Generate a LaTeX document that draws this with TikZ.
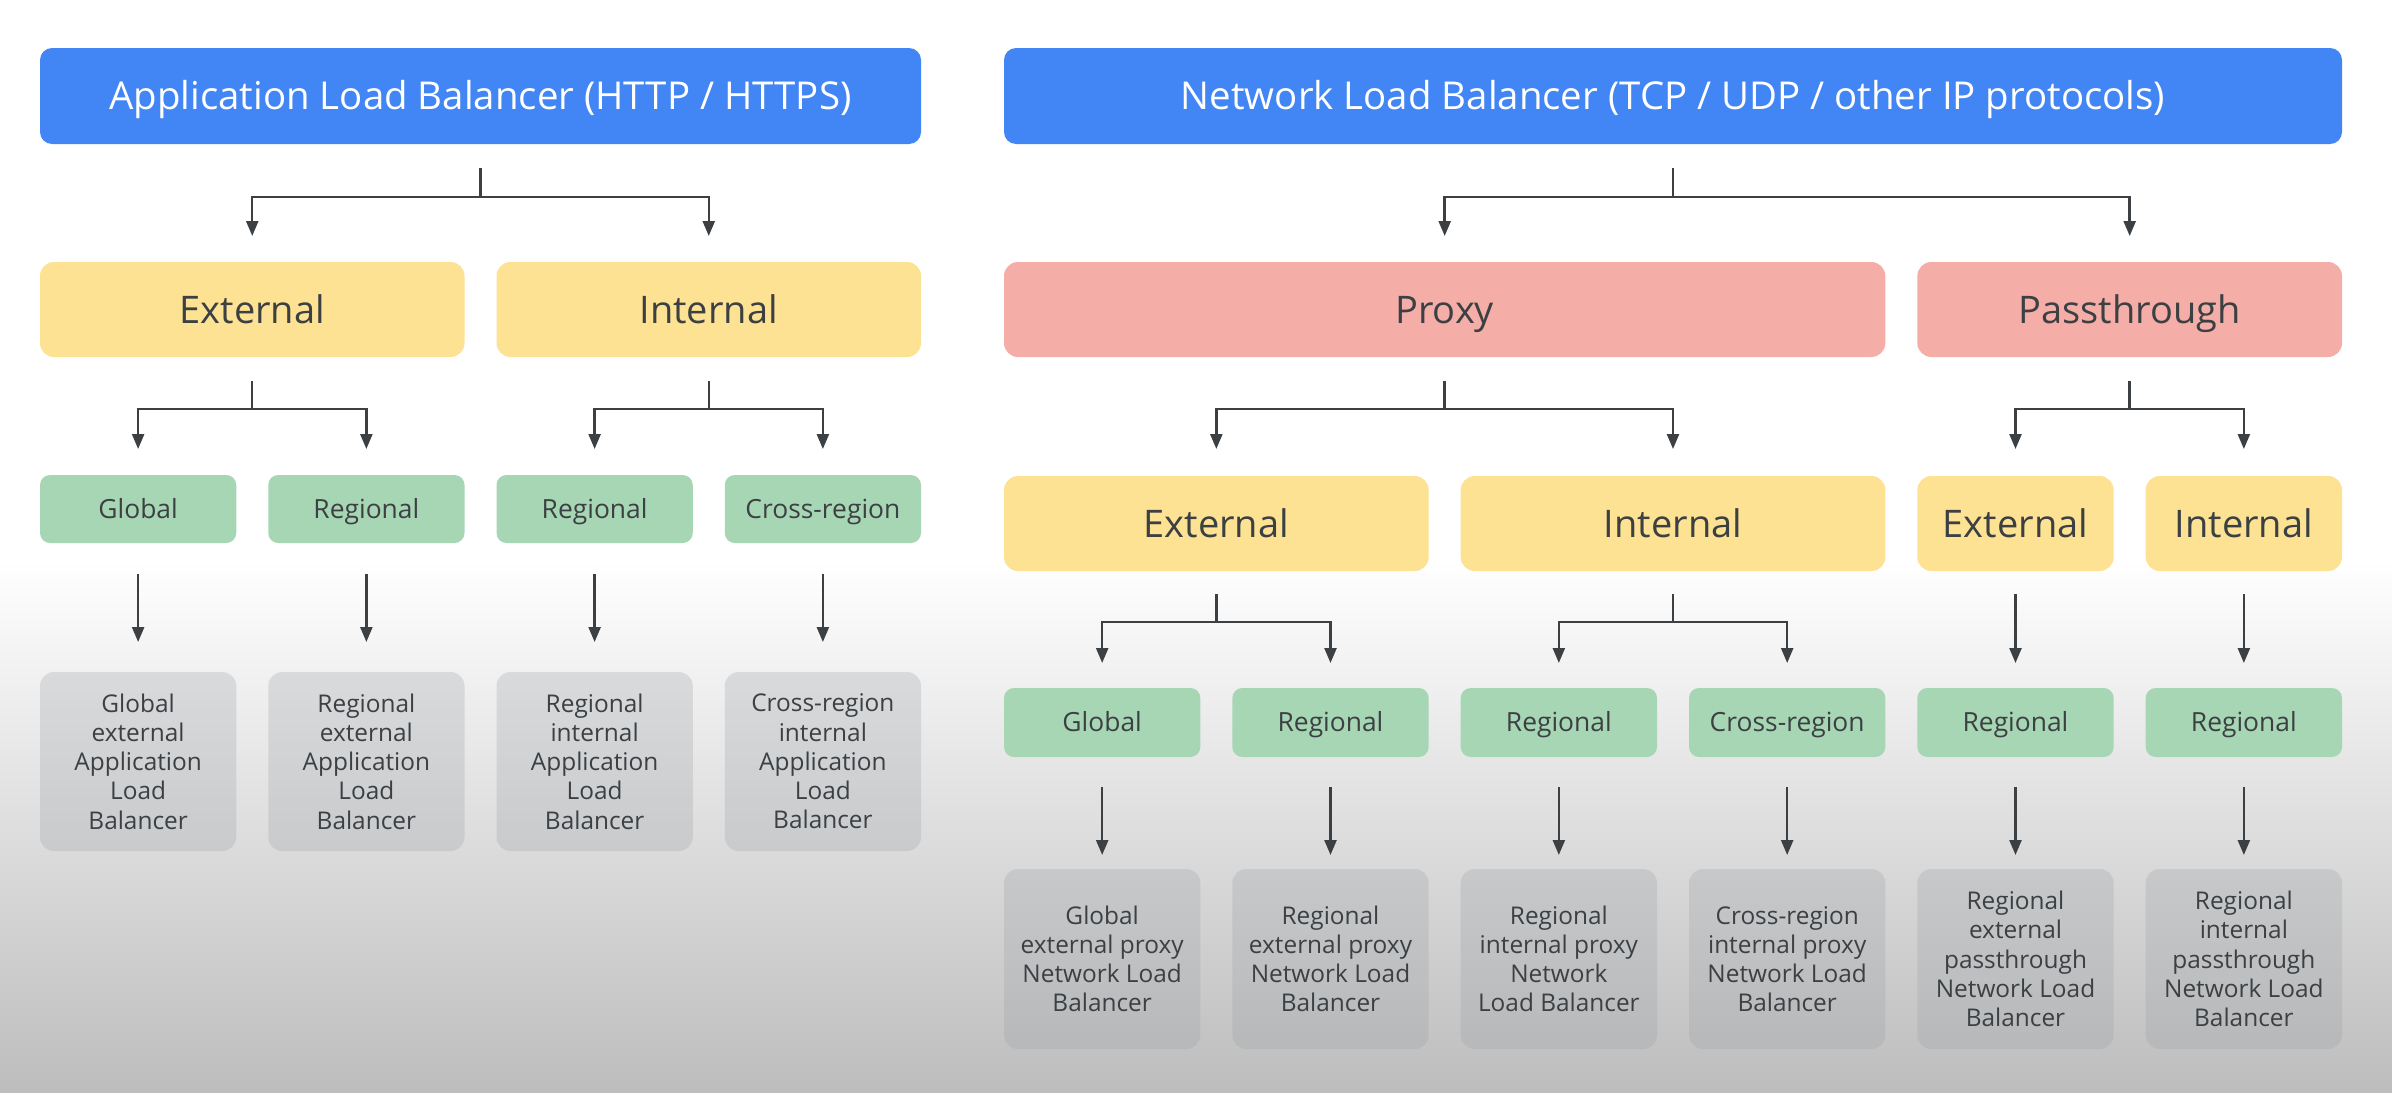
\documentclass[tikz,border=0pt]{standalone}
\usepackage{fontspec}
\setmainfont{Open Sans}
\usetikzlibrary{arrows.meta,calc}
\definecolor{gblue}{HTML}{4285F4}
\definecolor{gyellow}{HTML}{FDE293}
\definecolor{gred}{HTML}{F5ADA8}
\definecolor{ggreen}{HTML}{A6D6B4}
\definecolor{ggray}{HTML}{9AA0A6}
\definecolor{gtext}{HTML}{3C4043}
\definecolor{gline}{HTML}{3C4043}
\definecolor{bgbottom}{HTML}{BDBDBD}
\newcommand\mkbox[7]{\node[#6, minimum width={(#4-#2)*0.5pt}, minimum height={(#5-#3)*0.5pt}] (#1) at ({(#2+#4)/2},{(#3+#5)/2}) {#7};}
\tikzset{
  base/.style={rounded corners=6pt, inner sep=0pt, outer sep=0pt, align=center, text=gtext},
  titlebox/.style={base, fill=gblue, text=white, font=\fontsize{19.2}{22}\selectfont, text height=13.7pt, text depth=0pt},
  catbox/.style={base, fill=gyellow, rounded corners=7pt, font=\fontsize{19}{22}\selectfont, text height=13.6pt, text depth=0pt},
  redbox/.style={catbox, fill=gred},
  scopebox/.style={base, fill=ggreen, rounded corners=5pt, font=\fontsize{13.2}{15}\selectfont, text height=9.4pt, text depth=0pt},
  resbox/.style={base, fill=ggray, fill opacity=0.28, text opacity=1, rounded corners=7pt, font=\fontsize{12.2}{14.6}\selectfont},
  line/.style={draw=gline, line width=1.2pt},
  arr/.style={line, -{Triangle[length=7.5pt,width=6pt]}}
}
\begin{document}
\begin{tikzpicture}[x=0.5pt, y=-0.5pt]
\useasboundingbox (0,0) rectangle (2392,1092);
\fill[white] (0,0) rectangle (2392,1092);
\shade[top color=white, bottom color=bgbottom] (0,560) rectangle (2392,1092);

% ---------- Application Load Balancer ----------
\mkbox{alb}{40}{48}{921}{144}{titlebox}{Application Load Balancer (HTTP / HTTPS)}
\mkbox{aext}{40}{262}{464.5}{357}{catbox}{External}
\mkbox{aint}{496.5}{262}{921}{357}{catbox}{Internal}
\mkbox{ag1}{40}{475}{236.25}{543}{scopebox}{Global}
\mkbox{ag2}{268.25}{475}{464.5}{543}{scopebox}{Regional}
\mkbox{ag3}{496.5}{475}{692.75}{543}{scopebox}{Regional}
\mkbox{ag4}{724.75}{475}{921}{543}{scopebox}{Cross-region}
\mkbox{ar1}{40}{672}{236.25}{851}{resbox}{Global\\external\\Application\\Load\\Balancer}
\mkbox{ar2}{268.25}{672}{464.5}{851}{resbox}{Regional\\external\\Application\\Load\\Balancer}
\mkbox{ar3}{496.5}{672}{692.75}{851}{resbox}{Regional\\internal\\Application\\Load\\Balancer}
\mkbox{ar4}{724.75}{672}{921}{851}{resbox}{Cross-region\\internal\\Application\\Load\\Balancer}

\coordinate (jA) at ($(alb.south)+(0,53)$);
\draw[line, shorten <=12pt] (alb.south) -- (jA);
\draw[arr, shorten >=13pt] (jA) -| (aext.north);
\draw[arr, shorten >=13pt] (jA) -| (aint.north);

\coordinate (jAE) at ($(aext.south)+(0,52)$);
\draw[line, shorten <=12pt] (aext.south) -- (jAE);
\draw[arr, shorten >=13pt] (jAE) -| (ag1.north);
\draw[arr, shorten >=13pt] (jAE) -| (ag2.north);
\coordinate (jAI) at ($(aint.south)+(0,52)$);
\draw[line, shorten <=12pt] (aint.south) -- (jAI);
\draw[arr, shorten >=13pt] (jAI) -| (ag3.north);
\draw[arr, shorten >=13pt] (jAI) -| (ag4.north);

\foreach \i in {1,2,3,4}{
  \draw[arr, shorten <=15.5pt, shorten >=15pt] (ag\i.south) -- (ar\i.north);
}

% ---------- Network Load Balancer ----------
\mkbox{nlb}{1004}{48}{2342}{144}{titlebox}{Network Load Balancer (TCP / UDP / other IP protocols)}
\mkbox{proxy}{1004}{262}{1885.33}{357}{redbox}{Proxy}
\mkbox{pass}{1917.33}{262}{2342}{357}{redbox}{Passthrough}
\mkbox{pext}{1004}{476}{1428.67}{571}{catbox}{External}
\mkbox{pint}{1460.67}{476}{1885.33}{571}{catbox}{Internal}
\mkbox{sext}{1917.33}{476}{2113.67}{571}{catbox}{External}
\mkbox{sint}{2145.67}{476}{2342}{571}{catbox}{Internal}
\mkbox{ng1}{1004}{688}{1200.33}{757}{scopebox}{Global}
\mkbox{ng2}{1232.33}{688}{1428.67}{757}{scopebox}{Regional}
\mkbox{ng3}{1460.67}{688}{1657}{757}{scopebox}{Regional}
\mkbox{ng4}{1689}{688}{1885.33}{757}{scopebox}{Cross-region}
\mkbox{ng5}{1917.33}{688}{2113.67}{757}{scopebox}{Regional}
\mkbox{ng6}{2145.67}{688}{2342}{757}{scopebox}{Regional}
\mkbox{nr1}{1004}{869}{1200.33}{1049}{resbox}{Global\\external proxy\\Network Load\\Balancer}
\mkbox{nr2}{1232.33}{869}{1428.67}{1049}{resbox}{Regional\\external proxy\\Network Load\\Balancer}
\mkbox{nr3}{1460.67}{869}{1657}{1049}{resbox}{Regional\\internal proxy\\Network\\Load Balancer}
\mkbox{nr4}{1689}{869}{1885.33}{1049}{resbox}{Cross-region\\internal proxy\\Network Load\\Balancer}
\mkbox{nr5}{1917.33}{869}{2113.67}{1049}{resbox}{Regional\\external\\passthrough\\Network Load\\Balancer}
\mkbox{nr6}{2145.67}{869}{2342}{1049}{resbox}{Regional\\internal\\passthrough\\Network Load\\Balancer}

\coordinate (jN) at ($(nlb.south)+(0,53)$);
\draw[line, shorten <=12pt] (nlb.south) -- (jN);
\draw[arr, shorten >=13pt] (jN) -| (proxy.north);
\draw[arr, shorten >=13pt] (jN) -| (pass.north);

\coordinate (jP) at ($(proxy.south)+(0,52)$);
\draw[line, shorten <=12pt] (proxy.south) -- (jP);
\draw[arr, shorten >=13.5pt] (jP) -| (pext.north);
\draw[arr, shorten >=13.5pt] (jP) -| (pint.north);
\coordinate (jS) at ($(pass.south)+(0,52)$);
\draw[line, shorten <=12pt] (pass.south) -- (jS);
\draw[arr, shorten >=13.5pt] (jS) -| (sext.north);
\draw[arr, shorten >=13.5pt] (jS) -| (sint.north);

\coordinate (jPE) at ($(pext.south)+(0,51)$);
\draw[line, shorten <=11.5pt] (pext.south) -- (jPE);
\draw[arr, shorten >=12.5pt] (jPE) -| (ng1.north);
\draw[arr, shorten >=12.5pt] (jPE) -| (ng2.north);
\coordinate (jPI) at ($(pint.south)+(0,51)$);
\draw[line, shorten <=11.5pt] (pint.south) -- (jPI);
\draw[arr, shorten >=12.5pt] (jPI) -| (ng3.north);
\draw[arr, shorten >=12.5pt] (jPI) -| (ng4.north);
\draw[arr, shorten <=11.5pt, shorten >=12.5pt] (sext.south) -- (ng5.north);
\draw[arr, shorten <=11.5pt, shorten >=12.5pt] (sint.south) -- (ng6.north);

\foreach \i in {1,...,6}{
  \draw[arr, shorten <=15pt, shorten >=7pt] (ng\i.south) -- (nr\i.north);
}
\end{tikzpicture}
\end{document}
